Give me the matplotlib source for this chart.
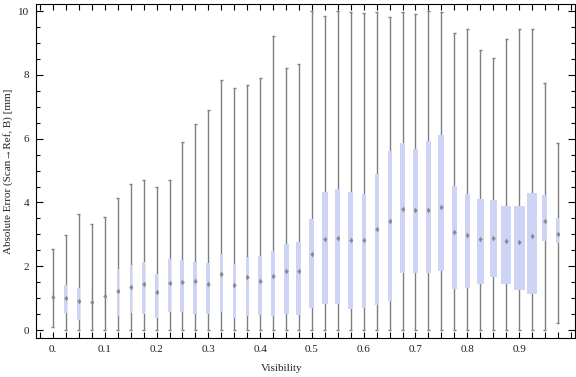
import numpy as np
import matplotlib.pyplot as plt
from matplotlib.ticker import MultipleLocator

# visibility bins (one box per 0.025)
visibility = np.arange(40) * 0.025

# whisker ends, quartiles and medians
w_low = [0.10, 0.0, 0.0, 0.0, 0.0, 0.0, 0.0, 0.0, 0.0, 0.0,
         0.0, 0.0, 0.0, 0.0, 0.0, 0.0, 0.0, 0.0, 0.0, 0.0,
         0.0, 0.0, 0.0, 0.0, 0.0, 0.0, 0.0, 0.0, 0.0, 0.0,
         0.0, 0.0, 0.0, 0.0, 0.0, 0.0, 0.0, 0.0, 0.0, 0.21]
q1 = [0.86, 0.54, 0.31, 0.23, 0.39, 0.44, 0.55, 0.51, 0.39, 0.56,
      0.56, 0.51, 0.51, 0.56, 0.39, 0.45, 0.48, 0.45, 0.51, 0.48,
      0.68, 0.83, 0.83, 0.67, 0.70, 0.79, 0.91, 1.80, 1.80, 1.80,
      1.86, 1.30, 1.32, 1.44, 1.66, 1.44, 1.25, 1.13, 2.80, 2.74]
median = [1.04, 1.02, 0.91, 0.89, 1.07, 1.23, 1.36, 1.43, 1.19, 1.48,
          1.50, 1.53, 1.44, 1.76, 1.42, 1.65, 1.55, 1.69, 1.86, 1.85,
          2.39, 2.86, 2.88, 2.83, 2.83, 3.18, 3.42, 3.81, 3.75, 3.78,
          3.85, 3.07, 2.97, 2.85, 2.90, 2.79, 2.75, 2.94, 3.42, 3.02]
q3 = [1.19, 1.41, 1.32, 1.32, 1.61, 1.91, 2.03, 2.13, 1.76, 2.23,
      2.19, 2.13, 2.10, 2.38, 2.06, 2.29, 2.31, 2.47, 2.69, 2.76,
      3.48, 4.32, 4.42, 4.32, 4.26, 4.89, 5.60, 5.85, 5.67, 5.92,
      6.13, 4.51, 4.26, 4.11, 4.08, 3.89, 3.89, 4.29, 4.23, 3.51]
w_high = [2.54, 2.97, 3.63, 3.31, 3.54, 4.14, 4.59, 4.72, 4.50, 4.69,
          5.91, 6.45, 6.89, 7.83, 7.58, 7.67, 7.89, 9.22, 8.23, 8.33,
          9.99, 9.86, 9.99, 9.96, 9.93, 9.96, 9.83, 9.96, 9.90, 9.99,
          9.96, 9.33, 9.43, 8.77, 8.52, 9.14, 9.43, 9.43, 7.76, 5.85]

# box widths in pixels as drawn
box_px = [1, 3, 3, 1, 1, 2, 2.3, 2.3, 2.3, 3,
          4, 4, 4, 3, 3, 3.3, 3.3, 3.3, 5, 5,
          5, 6, 5, 5, 4, 4, 4, 5, 5, 5,
          6, 5, 5, 7, 7, 10, 11, 10, 5, 3]

plt.rcParams['font.family'] = ['Liberation Serif', 'DejaVu Serif']

fig = plt.figure(figsize=(5.76, 3.77), dpi=100)
ax = fig.add_axes([0.0625, 0.1034, 0.9355, 0.8856])

px = 0.025 / 12.95  # data units per pixel along x
box_col = '#cdd4f6'
line_col = '#7f7f7f'

for i, x in enumerate(visibility):
    ax.vlines(x, w_low[i], w_high[i], color=line_col, lw=1, zorder=1)
    ax.hlines([w_low[i], w_high[i]], x - 1.5 * px, x + 1.5 * px, color=line_col, lw=1, zorder=1)
    wd = box_px[i] * px
    alpha = 1.0 if box_px[i] > 1.5 else 0.6
    ax.bar(x, q3[i] - q1[i], bottom=q1[i], width=wd, color=box_col,
           alpha=alpha, lw=0, zorder=2)
    ax.hlines(median[i], x - 1.5 * px, x + 1.5 * px, color='#888888', lw=1, zorder=3)
    ax.plot(x, median[i], marker='d', ms=3, color='#8a8a8a', mew=0, zorder=3)

ax.set_xlim(-0.0328, 1.0077)
ax.set_ylim(-0.25, 10.22)

ax.set_xticks(np.arange(0, 1.0, 0.1))
ax.set_xticklabels(['0.', '0.1', '0.2', '0.3', '0.4', '0.5', '0.6', '0.7', '0.8', '0.9'])
ax.xaxis.set_minor_locator(MultipleLocator(0.025))
ax.set_yticks(np.arange(0, 11, 2))
ax.yaxis.set_minor_locator(MultipleLocator(0.5))

ax.tick_params(which='both', direction='in', top=True, right=True,
               labelsize=8, colors='black', labelcolor='#222222', width=0.8)
ax.tick_params(axis='x', which='major', length=4, pad=5)
ax.tick_params(axis='x', which='minor', length=4)
ax.tick_params(axis='y', which='major', length=5, pad=5)
ax.tick_params(axis='y', which='minor', length=3)
for s in ax.spines.values():
    s.set_linewidth(0.8)

ax.set_xlabel('Visibility', fontsize=8, color='#222222')
ax.xaxis.set_label_coords(0.456, -0.09)
ax.xaxis.label.set_va('center')
ax.set_ylabel('Absolute Error (Scan\u2192Ref, B) [mm]', fontsize=8, color='#222222')
ax.yaxis.set_label_coords(-0.052, 0.5)
ax.yaxis.label.set_va('center')

fig.savefig('out.png', dpi=100)
